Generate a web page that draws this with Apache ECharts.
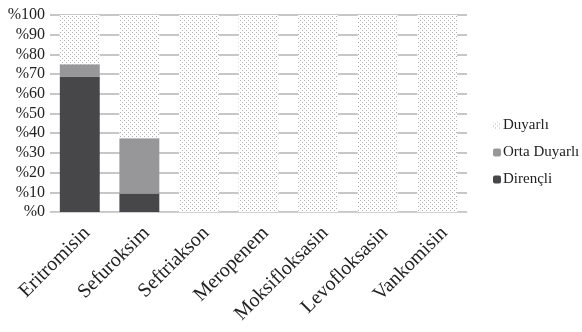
<!DOCTYPE html>
<html>
<head>
<meta charset="utf-8">
<script src="https://cdn.jsdelivr.net/npm/echarts@6/dist/echarts.min.js"></script>
<style>
  html, body { margin: 0; padding: 0; background: #fff; }
  #chart { width: 582px; height: 332px; }
</style>
</head>
<body>
<div id="chart"></div>
<script>
// Antibiotic susceptibility shares (%)
const categories = ['Eritromisin', 'Sefuroksim', 'Seftriakson', 'Meropenem', 'Moksifloksasin', 'Levofloksasin', 'Vankomisin'];
const direncli = [68.8, 9.4, 0, 0, 0, 0, 0];
const ortaDuyarli = [6.2, 28.1, 0, 0, 0, 0, 0];
const duyarli = [25, 62.5, 100, 100, 100, 100, 100];
const yTicks = [0, 10, 20, 30, 40, 50, 60, 70, 80, 90, 100];

// Dotted fill for the susceptible segment
function dotPattern() {
  const c = document.createElement('canvas');
  c.width = 4; c.height = 4;
  const ctx = c.getContext('2d');
  ctx.fillStyle = '#ffffff';
  ctx.fillRect(0, 0, 4, 4);
  ctx.fillStyle = '#b0b0b0';
  ctx.fillRect(0, 0, 1, 1);
  ctx.fillRect(2, 2, 1, 1);
  return c;
}

const font = 'Liberation Serif';
const chart = echarts.init(document.getElementById('chart'), null, { renderer: 'canvas' });
chart.setOption({
  animation: false,
  backgroundColor: '#ffffff',
  textStyle: { fontFamily: font },
  grid: { left: 50, right: 115, top: 15, bottom: 120, containLabel: false },
  legend: {
    orient: 'vertical',
    left: 488,
    top: 113,
    itemGap: 12,
    itemWidth: 8,
    itemHeight: 8,
    textStyle: { fontFamily: font, fontSize: 15, color: '#222', padding: [0, 0, 0, -3] },
    data: ['Duyarlı', 'Orta Duyarlı', 'Dirençli']
  },
  xAxis: {
    type: 'category',
    data: categories,
    axisTick: { show: false },
    axisLine: { lineStyle: { color: '#d0d0d0', width: 1 } },
    axisLabel: {
      rotate: 45,
      interval: 0,
      margin: 11,
      verticalAlign: 'top',
      fontFamily: font,
      fontSize: 20,
      color: '#222'
    }
  },
  yAxis: {
    type: 'value',
    min: 0,
    max: 100,
    interval: 10,
    axisLine: { show: false },
    axisTick: { show: false },
    splitLine: { lineStyle: { color: '#b4b4b4', width: 1.5 } },
    axisLabel: {
      fontFamily: font,
      fontSize: 16,
      color: '#222',
      margin: 5,
      formatter: v => yTicks.includes(v) ? '%' + v : ''
    }
  },
  series: [
    {
      name: 'Dirençli', type: 'bar', stack: 'all', barWidth: '67%',
      itemStyle: { color: '#47474a' },
      data: direncli
    },
    {
      name: 'Orta Duyarlı', type: 'bar', stack: 'all',
      itemStyle: { color: '#97979a' },
      data: ortaDuyarli
    },
    {
      name: 'Duyarlı', type: 'bar', stack: 'all',
      itemStyle: { color: { image: dotPattern(), repeat: 'repeat' } },
      data: duyarli
    }
  ]
});
</script>
</body>
</html>
